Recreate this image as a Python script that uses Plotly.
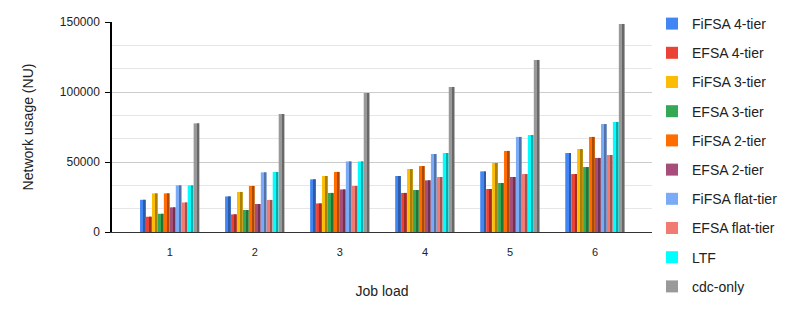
import plotly.graph_objects as go

categories = [1, 2, 3, 4, 5, 6]
series_names = ["FiFSA 4-tier", "EFSA 4-tier", "FiFSA 3-tier", "EFSA 3-tier", "FiFSA 2-tier",
                "EFSA 2-tier", "FiFSA flat-tier", "EFSA flat-tier", "LTF", "cdc-only"]
fifsa_4 = [23000, 25400, 37600, 40000, 43300, 56400]
efsa_4 = [10900, 12600, 20400, 27900, 30700, 41400]
fifsa_3 = [27600, 28600, 40000, 45000, 49300, 59300]
efsa_3 = [13000, 15700, 27900, 30000, 35000, 46400]
fifsa_2 = [27600, 32900, 42900, 47100, 57900, 67900]
efsa_2 = [17600, 20000, 30400, 36900, 39300, 52900]
fifsa_flat = [33300, 42600, 50400, 55700, 67900, 77100]
efsa_flat = [21100, 22900, 32900, 39300, 41400, 55000]
ltf = [33300, 42900, 50400, 56400, 69300, 78600]
cdc_only = [77600, 84300, 99300, 103600, 122900, 148600]
y_ticks = [0, 50000, 100000, 150000]

all_series = [fifsa_4, efsa_4, fifsa_3, efsa_3, fifsa_2, efsa_2, fifsa_flat, efsa_flat, ltf, cdc_only]
colors = ["#4285F4", "#EA4335", "#FBBC04", "#34A853", "#FF6D01",
          "#A64D79", "#7BAAF7", "#F07B72", "#00FFFF", "#999999"]


def darker(hex_color, f=0.68):
    h = hex_color.lstrip("#")
    r, g, b = (int(h[k:k + 2], 16) for k in (0, 2, 4))
    return "rgb({},{},{})".format(int(r * f), int(g * f), int(b * f))


group_w = 0.70
n = len(all_series)
slot = group_w / n
bar_w = slot * 0.94
side_w = bar_w * 0.32

fig = go.Figure()
for i, (name, vals, c) in enumerate(zip(series_names, all_series, colors)):
    off = -group_w / 2 + i * slot
    fig.add_trace(go.Bar(x=categories, y=vals, name=name, marker_color=c,
                         marker_line_width=0, legendgroup=f"g{i}",
                         offset=off, width=bar_w))
    fig.add_trace(go.Bar(x=categories, y=vals, name=name, marker_color=darker(c),
                         marker_line_width=0, legendgroup=f"g{i}", showlegend=False,
                         offset=off + bar_w - side_w, width=side_w, hoverinfo="skip"))

font = "Liberation Sans, Arial, sans-serif"
fig.update_layout(
    width=804, height=314,
    margin=dict(l=112, r=152, t=22, b=82, autoexpand=False),
    paper_bgcolor="white", plot_bgcolor="white",
    barmode="overlay",
    font=dict(family=font, color="#222222"),
    showlegend=True,
    legend=dict(xref="container", yref="container", x=652/804, y=1 - 8/314,
                xanchor="left", yanchor="top", maxheight=1,
                font=dict(size=14, color="#222222"), tracegroupgap=8,
                itemwidth=30),
    xaxis=dict(range=[0.32, 6.67], tickvals=categories, ticktext=[str(c) for c in categories],
               tickfont=dict(size=11), showline=True, linecolor="#333333", linewidth=1,
               showgrid=False, zeroline=False, ticks="", ticklabelstandoff=10,
               title=dict(text="Job load", font=dict(size=14), standoff=28)),
    yaxis=dict(range=[0, 150000], tickvals=y_ticks, ticktext=[str(v) for v in y_ticks],
               tickfont=dict(size=12), showline=True, linecolor="#000000", linewidth=1.5,
               ticks="outside", ticklen=5, tickcolor="#000000", ticklabelstandoff=3,
               showgrid=True, gridcolor="#CCCCCC", gridwidth=1, zeroline=False,
               minor=dict(dtick=50000/3, showgrid=True, gridcolor="#E6E6E6", gridwidth=1),
               title=dict(text="Network usage (NU)", font=dict(size=14), standoff=23)),
)
fig.write_html("out.html", post_script="document.body.style.margin='0';",
               config={"displayModeBar": False})
